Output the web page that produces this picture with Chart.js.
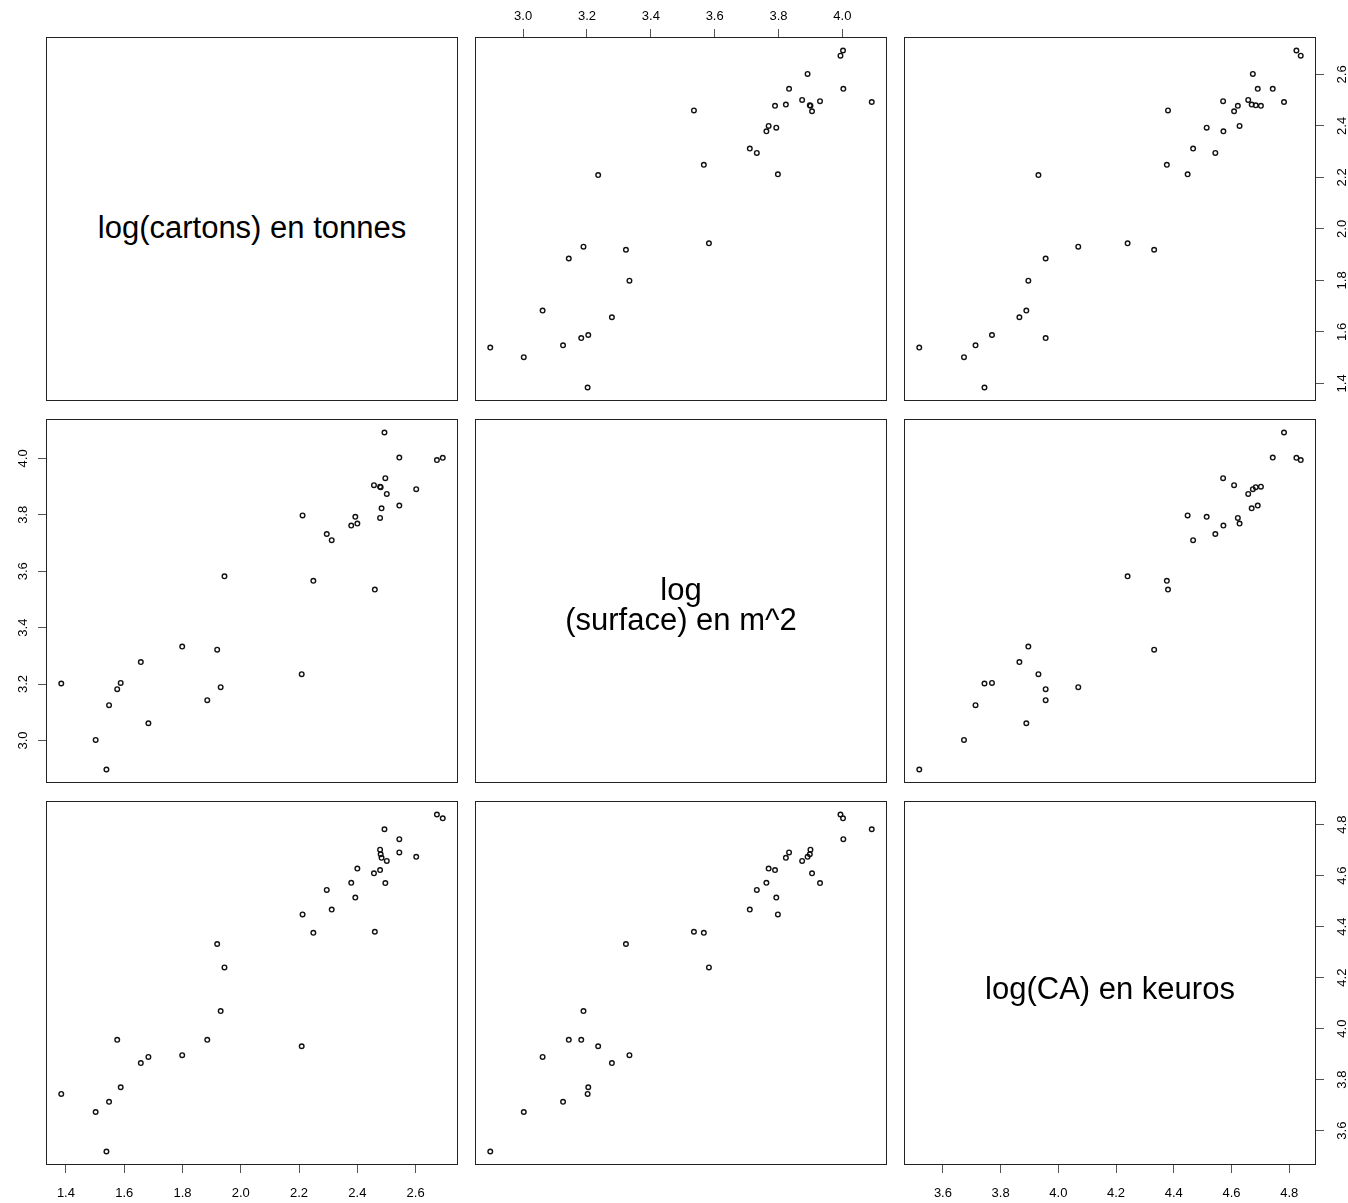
<!DOCTYPE html>
<html>
<head>
<meta charset="utf-8">
<script src="https://cdn.jsdelivr.net/npm/chart.js@4.4.0/dist/chart.umd.min.js"></script>
<style>
  html, body { margin: 0; padding: 0; background: #fff; overflow: hidden; }
  #wrap { position: relative; width: 1348px; height: 1203px; overflow: hidden; }
  #wrap canvas { position: absolute; }
  .cadre { position: absolute; box-sizing: border-box; border: 1px solid #222; pointer-events: none; }
  .nom { position: absolute; left: 0; width: 100%; text-align: center; white-space: pre;
         font-family: "Liberation Sans", Arial, sans-serif; font-size: 31px; line-height: 30px; color: #000; }
</style>
</head>
<body>
<div id="wrap"></div>
<script>
// valeurs (log)
const cartons = [1.384, 1.502, 1.539, 1.548, 1.576, 1.588, 1.657, 1.683, 1.799, 1.885, 1.919, 1.931, 1.944, 2.209, 2.212, 2.249, 2.295, 2.312, 2.379, 2.393, 2.400, 2.457, 2.460, 2.478, 2.478, 2.480, 2.483, 2.493, 2.496, 2.501, 2.544, 2.544, 2.602, 2.673, 2.693];
const surface = [3.202, 3.002, 2.897, 3.125, 3.182, 3.204, 3.278, 3.061, 3.333, 3.143, 3.322, 3.189, 3.582, 3.235, 3.798, 3.566, 3.732, 3.710, 3.762, 3.793, 3.769, 3.905, 3.535, 3.900, 3.789, 3.898, 3.823, 4.092, 3.930, 3.874, 4.003, 3.833, 3.891, 3.994, 4.002];
const ca = [3.744, 3.673, 3.518, 3.713, 3.956, 3.770, 3.865, 3.889, 3.896, 3.956, 4.332, 4.069, 4.240, 3.931, 4.448, 4.376, 4.544, 4.467, 4.572, 4.514, 4.628, 4.609, 4.380, 4.702, 4.622, 4.684, 4.670, 4.782, 4.571, 4.658, 4.743, 4.691, 4.674, 4.840, 4.825];

const ticksCartons = [1.4, 1.6, 1.8, 2.0, 2.2, 2.4, 2.6];
const ticksSurface = [3.0, 3.2, 3.4, 3.6, 3.8, 4.0];
const ticksCA = [3.6, 3.8, 4.0, 4.2, 4.4, 4.6, 4.8];

const noms = ['log(cartons) en tonnes', 'log\n(surface) en m^2', 'log(CA) en keuros'];

const vars = [cartons, surface, ca];
const varTicks = [ticksCartons, ticksSurface, ticksCA];

// mise en page des panneaux
const colLeft = [46, 475, 904];
const rowTop = [37, 419, 801];
const W = 412, H = 364, M = 40;
const nomHaut = [175, 155, 172];   // haut du texte dans le panneau
const pad = { top: 5, bottom: 13, left: 5.5, right: 9 };

function etendue(a) {
  const lo = Math.min(...a), hi = Math.max(...a), d = (hi - lo) * 0.04;
  return [lo - d, hi + d];
}

function axe(k, pos, shown, horiz) {
  const [mn, mx] = etendue(vars[k]);
  return {
    type: 'linear',
    position: pos,
    display: shown,
    min: mn,
    max: mx,
    afterBuildTicks: s => { s.ticks = varTicks[k].map(v => ({ value: v })); },
    afterFit: s => { if (!shown) return; if (horiz) s.height = M; else s.width = M; },
    grid: { display: true, drawOnChartArea: false, drawTicks: true, tickLength: 8, color: '#555', lineWidth: 1 },
    border: { display: false },
    ticks: {
      font: { family: 'Liberation Sans', size: 13 },
      color: '#000',
      padding: pad[pos],
      autoSkip: false,
      minRotation: horiz ? 0 : 90,
      maxRotation: horiz ? 0 : 90,
      crossAlign: horiz ? 'near' : 'center',
      callback: v => v.toFixed(1)
    }
  };
}

const wrap = document.getElementById('wrap');

for (let i = 0; i < 3; i++) {
  for (let j = 0; j < 3; j++) {
    const haut = i === 0 && j % 2 === 1;
    const bas = i === 2 && j % 2 === 0;
    const gauche = j === 0 && i % 2 === 1;
    const droite = j === 2 && i % 2 === 0;

    const cadre = document.createElement('div');
    cadre.className = 'cadre';
    cadre.style.left = colLeft[j] + 'px';
    cadre.style.top = rowTop[i] + 'px';
    cadre.style.width = W + 'px';
    cadre.style.height = H + 'px';

    if (i === j) {
      const t = document.createElement('div');
      t.className = 'nom';
      t.style.top = nomHaut[i] + 'px';
      t.textContent = noms[i];
      cadre.appendChild(t);
      if (!(haut || bas || gauche || droite)) { wrap.appendChild(cadre); continue; }
    }

    const cv = document.createElement('canvas');
    cv.width = W + 2 * M;
    cv.height = H + 2 * M;
    cv.style.left = (colLeft[j] - M) + 'px';
    cv.style.top = (rowTop[i] - M) + 'px';
    wrap.appendChild(cv);
    wrap.appendChild(cadre);

    const points = i === j ? [] : vars[j].map((x, k) => ({ x: x, y: vars[i][k] }));
    const xShown = haut || bas, yShown = gauche || droite;

    new Chart(cv, {
      type: 'scatter',
      data: {
        datasets: [{
          data: points,
          pointStyle: 'circle',
          pointRadius: 2.3,
          borderWidth: 1.4,
          borderColor: '#111',
          backgroundColor: 'rgba(0,0,0,0)'
        }]
      },
      options: {
        responsive: false,
        animation: false,
        events: [],
        layout: {
          padding: {
            top: haut ? 0 : M,
            bottom: bas ? 0 : M,
            left: gauche ? 0 : M,
            right: droite ? 0 : M
          }
        },
        plugins: { legend: { display: false }, tooltip: { enabled: false } },
        scales: {
          x: axe(j, haut ? 'top' : 'bottom', xShown, true),
          y: axe(i, droite ? 'right' : 'left', yShown, false)
        }
      }
    });
  }
}
</script>
</body>
</html>
